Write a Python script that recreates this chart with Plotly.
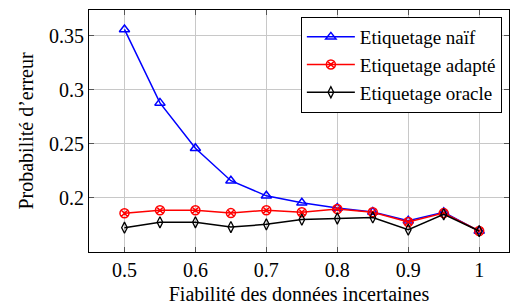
import plotly.graph_objects as go

fiabilite = [0.5, 0.55, 0.6, 0.65, 0.7, 0.75, 0.8, 0.85, 0.9, 0.95, 1.0]
naif = [0.356, 0.288, 0.246, 0.216, 0.202, 0.1955, 0.1907, 0.187, 0.179, 0.1868, 0.1694]
adapte = [0.1858, 0.1886, 0.1886, 0.186, 0.1886, 0.1868, 0.1898, 0.1868, 0.1778, 0.186, 0.1694]
oracle = [0.1725, 0.1775, 0.1775, 0.1731, 0.1756, 0.180, 0.181, 0.182, 0.1707, 0.1849, 0.1694]

x_ticks = [0.5, 0.6, 0.7, 0.8, 0.9, 1.0]
x_ticktext = ["0.5", "0.6", "0.7", "0.8", "0.9", "1"]
y_ticks = [0.2, 0.25, 0.3, 0.35]
y_ticktext = ["0.2", "0.25", "0.3", "0.35"]

FONT = "Liberation Serif"
FS = 20

fig = go.Figure()
fig.add_trace(go.Scatter(x=fiabilite, y=naif, mode="lines+markers", name="Etiquetage naïf",
                         line=dict(color="#0000ff", width=1.5),
                         marker=dict(symbol="triangle-up-open", size=9, color="#0000ff", line=dict(width=1.5))))
fig.add_trace(go.Scatter(x=fiabilite, y=adapte, mode="lines+markers", name="Etiquetage adapté",
                         line=dict(color="#ff0000", width=1.5),
                         marker=dict(symbol="circle-x-open", size=9, color="#ff0000", line=dict(width=1.5))))
fig.add_trace(go.Scatter(x=fiabilite, y=oracle, mode="lines+markers", name="Etiquetage oracle",
                         line=dict(color="#000000", width=1.5),
                         marker=dict(symbol="diamond-tall-open", size=8, color="#000000", line=dict(width=1.3))))

fig.update_layout(
    width=514, height=306,
    margin=dict(l=89, r=5, t=10, b=54, autoexpand=False),
    paper_bgcolor="white", plot_bgcolor="white",
    font=dict(family=FONT, size=FS, color="black"),
    showlegend=True,
    legend=dict(x=0.983, y=0.971, xanchor="right", yanchor="top",
                bordercolor="black", borderwidth=1, bgcolor="white",
                font=dict(family=FONT, size=19), tracegroupgap=0,
                itemwidth=48),
)
fig.update_xaxes(range=[0.45, 1.042], tickvals=x_ticks, ticktext=x_ticktext,
                 showgrid=True, gridcolor="#c8c8c8", gridwidth=1,
                 showline=True, linecolor="black", linewidth=1, mirror="ticks",
                 ticks="inside", ticklen=5, tickcolor="#555555",
                 zeroline=False, automargin=False,
                 title=dict(text="Fiabilité des données incertaines", font=dict(family=FONT, size=FS), standoff=6))
fig.update_yaxes(range=[0.15, 0.374], tickvals=y_ticks, ticktext=y_ticktext,
                 showgrid=True, gridcolor="#c8c8c8", gridwidth=1,
                 showline=True, linecolor="black", linewidth=1, mirror="ticks",
                 ticks="inside", ticklen=5, tickcolor="#555555",
                 zeroline=False, automargin=False,
                 title=dict(text="Probabilité d’erreur", font=dict(family=FONT, size=FS), standoff=10))

fig.write_html("out.html", config={"displayModeBar": False},
               post_script="document.body.style.margin='0';document.body.style.padding='0';")
